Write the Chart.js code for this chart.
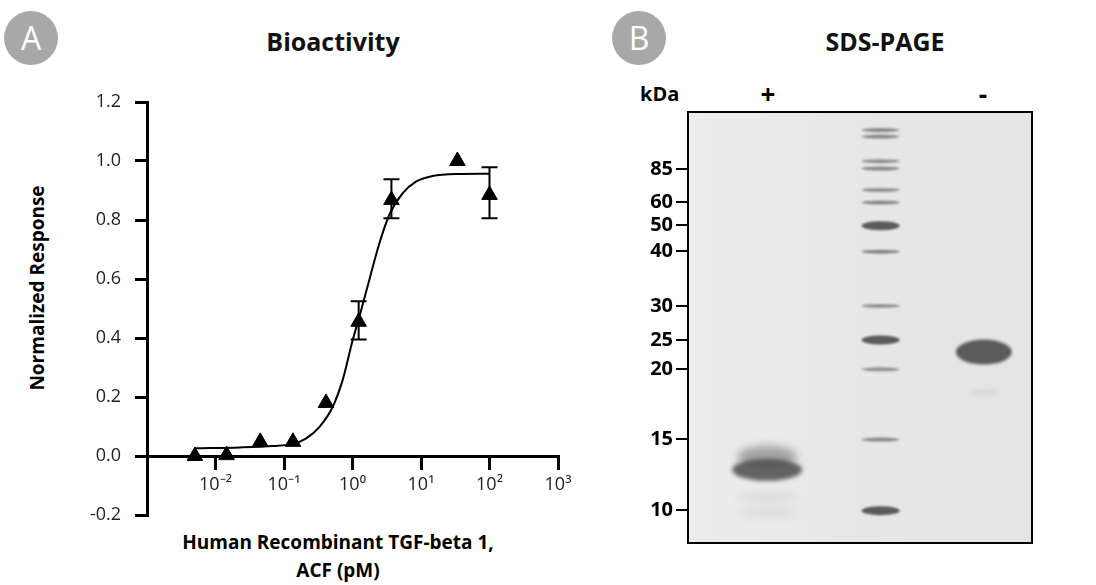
<!DOCTYPE html>
<html>
<head>
<meta charset="utf-8">
<script src="https://cdn.jsdelivr.net/npm/chart.js@4"></script>
<style>
body { margin: 0; width: 1096px; height: 585px; background: #fff; position: relative; overflow: hidden; font-family: "Open Sans", sans-serif; }
.abs { position: absolute; }
.badge { width: 54px; height: 54px; border-radius: 50%; background: #a8a8a8; color: #fff; font-size: 32px; text-align: center; line-height: 54px; }
.ttl { font-weight: bold; font-size: 25px; color: #111; transform: translateX(-50%); white-space: nowrap; }
</style>
</head>
<body>
<div class="abs badge" style="left:4px;top:11px">A</div>
<div class="abs badge" style="left:612px;top:11px">B</div>
<div class="abs ttl" style="left:333px;top:24px">Bioactivity</div>
<div class="abs ttl" style="left:885px;top:24px">SDS-PAGE</div>
<div class="abs" style="left:37px;top:288px;transform:translate(-50%,-50%) rotate(-90deg);font-weight:bold;font-size:19px;white-space:nowrap">Normalized Response</div>
<div class="abs" style="left:338px;top:528px;transform:translateX(-50%);font-weight:bold;font-size:19px;text-align:center;line-height:28px;white-space:nowrap">Human Recombinant TGF-beta 1,<br>ACF (pM)</div>
<div class="abs" style="left:640px;top:80px;font-weight:bold;font-size:20px">kDa</div>
<div class="abs" style="left:768px;top:76px;transform:translateX(-50%);font-weight:bold;font-size:26px">+</div>
<div class="abs" style="left:983px;top:76px;transform:translateX(-50%);font-weight:bold;font-size:26px">-</div>
<canvas id="bio" class="abs" style="left:0;top:0"></canvas>
<canvas id="gel" class="abs" style="left:630px;top:80px"></canvas>
<script>
// bioactivity data (pM, normalized response)
const doseX = [0.005, 0.0145, 0.045, 0.135, 0.41, 1.23, 3.7, 34, 100];
const respY = [0.0, 0.003, 0.048, 0.048, 0.18, 0.455, 0.868, 1.0, 0.885];
const errLo = [null, null, null, null, null, 0.395, 0.806, null, 0.806];
const errHi = [null, null, null, null, null, 0.525, 0.938, null, 0.979];
// fitted curve
const fitX = [0.005, 0.0226, 0.069, 0.135, 0.211, 0.33, 0.515, 0.719, 1.007, 1.26, 1.76, 2.47, 3.44, 5.38, 8.43, 14.7, 32.2, 98.4];
const fitY = [0.026, 0.029, 0.034, 0.041, 0.060, 0.099, 0.167, 0.258, 0.393, 0.472, 0.597, 0.721, 0.817, 0.890, 0.930, 0.949, 0.956, 0.957];
const decades = [-3, -2, -1, 0, 1, 2, 3];

// gel: marker labels and migration (fraction of gel height)
const markerKDa = ['85', '60', '50', '40', '30', '25', '20', '15', '10'];
const markerRf = [0.132, 0.209, 0.262, 0.323, 0.450, 0.529, 0.596, 0.759, 0.924];
const ladderRf = [0.042, 0.057, 0.114, 0.131, 0.181, 0.210, 0.264, 0.324, 0.450, 0.529, 0.597, 0.760, 0.925];
const ladderInk = [0.6, 0.6, 0.55, 0.6, 0.55, 0.6, 0.9, 0.65, 0.55, 0.9, 0.55, 0.6, 0.9];
const laneX = [0.23, 0.56, 0.86]; // +, ladder, -
const plusRf = [0.80, 0.83, 0.895, 0.93];
const plusInk = [0.45, 0.85, 0.14, 0.14];
const minusRf = [0.557, 0.650];
const minusInk = [0.9, 0.12];

const sup = { '-': '⁻', '0': '⁰', '1': '¹', '2': '²', '3': '³' };
const toSup = (n) => String(n).split('').map(c => sup[c]).join('');

const errorBars = {
	id: 'errorBars',
	afterDatasetsDraw: (chart) => {
		const { ctx, scales: { x, y } } = chart;
		ctx.save();
		ctx.strokeStyle = '#000';
		ctx.lineWidth = 2;
		doseX.forEach((d, i) => {
			if (errLo[i] == null) return;
			let px = x.getPixelForValue(d);
			let y1 = y.getPixelForValue(errLo[i]), y2 = y.getPixelForValue(errHi[i]);
			ctx.beginPath();
			ctx.moveTo(px, y1); ctx.lineTo(px, y2);
			ctx.moveTo(px - 8, y1); ctx.lineTo(px + 8, y1);
			ctx.moveTo(px - 8, y2); ctx.lineTo(px + 8, y2);
			ctx.stroke();
		});
		ctx.restore();
	}
};

const bioCanvas = document.getElementById('bio');
bioCanvas.width = 600; bioCanvas.height = 585;
new Chart(bioCanvas, {
	type: 'scatter',
	data: {
		datasets: [
			{
				data: doseX.map((d, i) => ({ x: d, y: respY[i] })),
				pointStyle: 'triangle', radius: 9, backgroundColor: '#000', borderColor: '#000',
			},
			{
				data: fitX.map((d, i) => ({ x: d, y: fitY[i] })),
				showLine: true, pointRadius: 0, borderColor: '#000', borderWidth: 2, cubicInterpolationMode: 'monotone',
			},
		]
	},
	options: {
		responsive: false,
		animation: false,
		layout: { padding: { top: 102, right: 42, bottom: 70, left: 0 } },
		plugins: { legend: { display: false }, tooltip: { enabled: false } },
		scales: {
			x: {
				type: 'logarithmic', min: 0.001, max: 1000,
				position: { y: 0 },
				border: { color: '#000', width: 3 },
				grid: { drawOnChartArea: false, color: '#000', lineWidth: 3, tickLength: 12 },
				afterBuildTicks: (s) => { s.ticks = decades.map(d => ({ value: Math.pow(10, d) })); },
				ticks: {
					color: '#222', font: { family: 'Open Sans', size: 18 }, padding: 6, autoSkip: false, maxRotation: 0,
					callback: (v) => { let e = Math.round(Math.log10(v)); return e == -3 ? '' : '10' + toSup(e); }
				},
			},
			y: {
				min: -0.2, max: 1.2,
				border: { color: '#000', width: 3 },
				grid: { drawOnChartArea: false, color: '#000', lineWidth: 3, tickLength: 12 },
				afterFit: (s) => { s.width = 147; },
				ticks: { stepSize: 0.2, color: '#222', font: { family: 'Open Sans', size: 18 }, padding: 14, callback: (v) => (Math.abs(v) < 1e-9 ? 0 : v).toFixed(1) },
			}
		}
	},
	plugins: [errorBars]
});

function drawBand(ctx, cx, cy, w, h, ink, blur) {
	ctx.save();
	ctx.filter = 'blur(' + blur + 'px)';
	ctx.fillStyle = 'rgba(75,75,75,' + ink + ')';
	ctx.beginPath();
	ctx.ellipse(cx, cy, w / 2, h / 2, 0, 0, Math.PI * 2);
	ctx.fill();
	ctx.restore();
}

const gelPlugin = {
	id: 'gelBands',
	beforeDatasetsDraw: (chart) => {
		const { ctx, chartArea: { left, top, width, height }, scales: { x, y } } = chart;
		ctx.save();
		ctx.beginPath(); ctx.rect(left, top, width, height); ctx.clip();
		let g = ctx.createLinearGradient(left, 0, left + width, 0);
		g.addColorStop(0, '#ededed'); g.addColorStop(0.5, '#e7e7e7'); g.addColorStop(1, '#e4e4e4');
		ctx.fillStyle = g;
		ctx.fillRect(left, top, width, height);
		ladderRf.forEach((rf, i) => {
			let h = ladderInk[i] > 0.8 ? 9 : 4;
			drawBand(ctx, x.getPixelForValue(laneX[1]), y.getPixelForValue(rf), 38, h, ladderInk[i], 1);
		});
		plusRf.forEach((rf, i) => {
			let h = i == 1 ? 22 : (i == 0 ? 22 : 6);
			drawBand(ctx, x.getPixelForValue(laneX[0]), y.getPixelForValue(rf), i == 1 ? 70 : 60, h, plusInk[i], i == 1 ? 2 : 4);
		});
		minusRf.forEach((rf, i) => {
			drawBand(ctx, x.getPixelForValue(laneX[2]), y.getPixelForValue(rf), i == 0 ? 56 : 30, i == 0 ? 25 : 4, minusInk[i], i == 0 ? 1.5 : 2);
		});
		ctx.restore();
		ctx.save();
		ctx.strokeStyle = '#000'; ctx.lineWidth = 2;
		ctx.strokeRect(left, top, width, height);
		ctx.restore();
	}
};

const gelCanvas = document.getElementById('gel');
gelCanvas.width = 466; gelCanvas.height = 505;
new Chart(gelCanvas, {
	type: 'scatter',
	data: { datasets: [{ data: [] }] },
	options: {
		responsive: false,
		animation: false,
		layout: { padding: { top: 32, right: 64, bottom: 42, left: 0 } },
		plugins: { legend: { display: false }, tooltip: { enabled: false } },
		scales: {
			x: { display: false, min: 0, max: 1 },
			y: {
				min: 0, max: 1, reverse: true,
				border: { display: false },
				grid: { drawOnChartArea: false, color: '#000', lineWidth: 2, tickLength: 12 },
				afterFit: (s) => { s.width = 58; },
				afterBuildTicks: (s) => { s.ticks = markerRf.map(v => ({ value: v })); },
				ticks: {
					autoSkip: false, color: '#000', padding: 3, font: { family: 'Open Sans', size: 20, weight: 'bold' },
					callback: (v, i) => markerKDa[i]
				},
			}
		}
	},
	plugins: [gelPlugin]
});
</script>
</body>
</html>
